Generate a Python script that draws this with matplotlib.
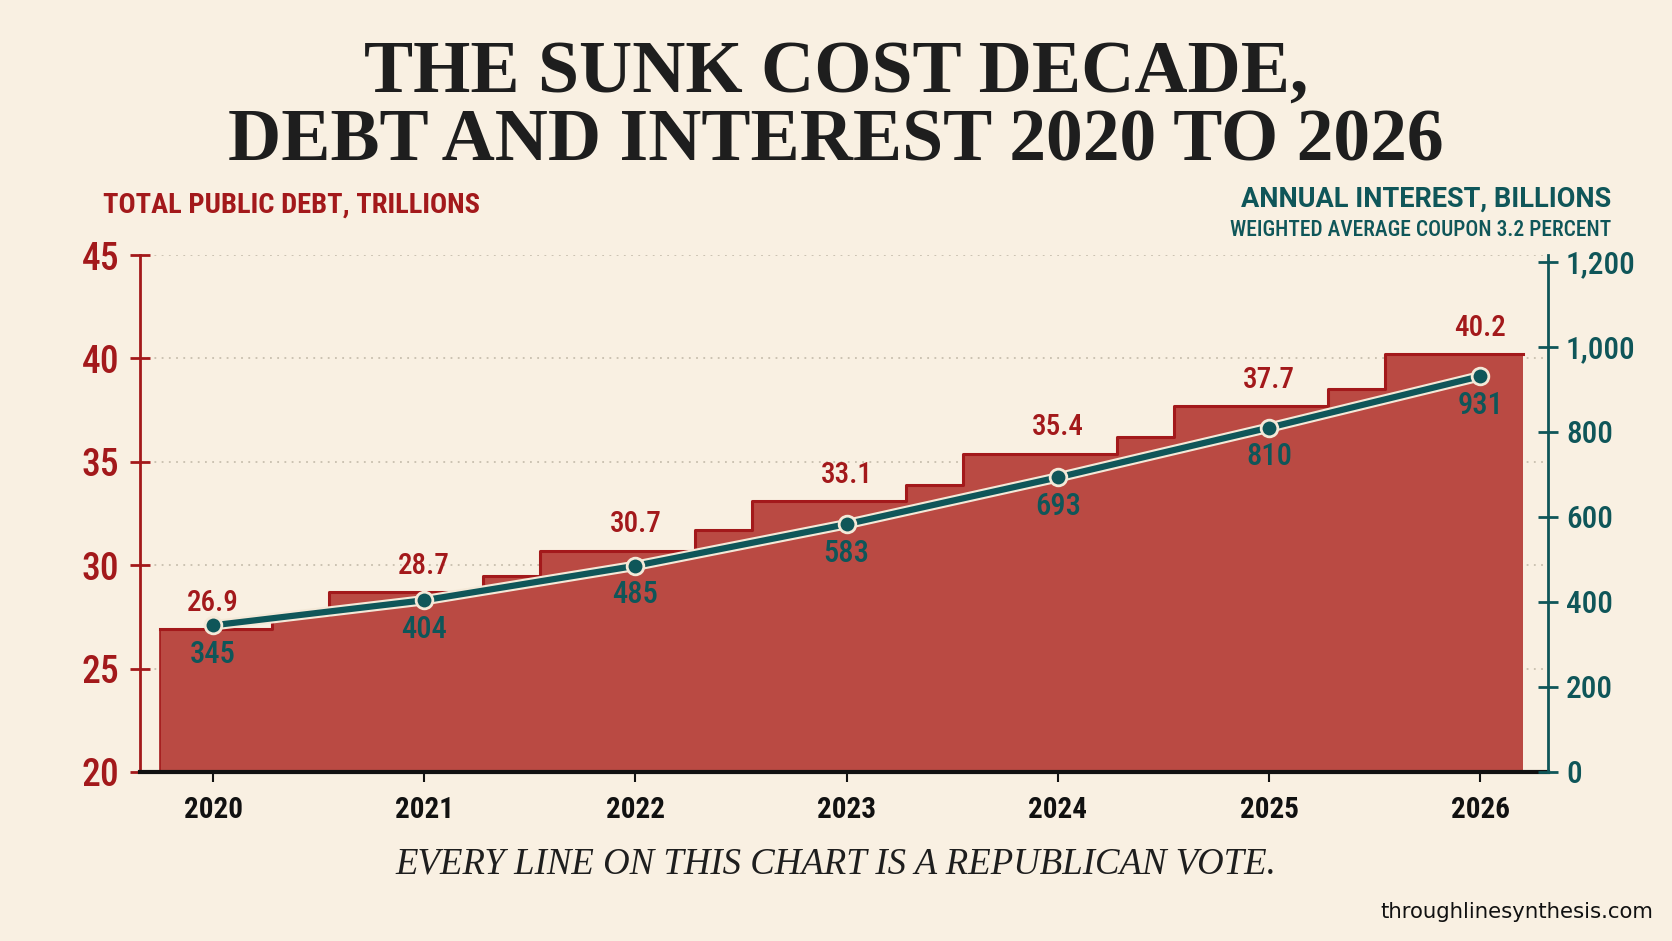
import matplotlib
matplotlib.use("Agg")
import matplotlib.pyplot as plt
import matplotlib.patheffects as pe
import numpy as np

years = [2020, 2021, 2022, 2023, 2024, 2025, 2026]
debt = [26.9, 28.7, 30.7, 33.1, 35.4, 37.7, 40.2]
# the half-year steps drawn between the labelled levels
debt_mid = [27.6, 29.5, 31.7, 33.9, 36.2, 38.5]
interest = [345, 404, 485, 583, 693, 810, 931]

debt_ticks = [20, 25, 30, 35, 40, 45]
interest_ticks = [0, 200, 400, 600, 800, 1000, 1200]

BG = "#F9F0E2"
RED = "#A3191B"
FILL = "#BA4A43"
TEAL = "#0F5659"
NARROW = ["Roboto Condensed", "DejaVu Sans"]

fig = plt.figure(figsize=(16.72, 9.41), dpi=100, facecolor=BG)
ax = fig.add_axes([0.0837, 0.1796, 0.8421, 0.5494])
ax.set_facecolor(BG)

# build the staircase: main level for most of the year, then a mid step
xs, ys = [], []
for i, (yr, d) in enumerate(zip(years, debt)):
    start = yr - 0.25 if i == 0 else yr - 0.45
    xs.append(start)
    ys.append(d)
    if i < len(debt_mid):
        xs.append(yr + 0.28)
        ys.append(debt_mid[i])
xs.append(years[-1] + 0.2)
ys.append(debt[-1])
xs = np.array(xs)
ys = np.array(ys)

ax.fill_between(xs, 20, ys, step="post", color=FILL, zorder=2, lw=0)
ax.step(xs, ys, where="post", color=RED, lw=2.2, zorder=3)
ax.plot([xs[0], xs[0]], [20, ys[0]], color=RED, lw=1.2, zorder=3)

for yr, d in zip(years, debt):
    ax.annotate(f"{d:.1f}", (yr, d), xytext=(0, 19), textcoords="offset points",
                ha="center", va="center", color=RED, fontsize=21, fontweight="medium",
                family=NARROW, fontstretch="condensed", zorder=5)

ax.set_xlim(2019.654, 2026.32)
ax.set_ylim(20, 45)
ax.set_yticks(debt_ticks)
ax.set_xticks(years)
ax.grid(axis="y", color="#C8BFAE", linestyle=(0, (1, 3)), lw=1.3, zorder=0)
ax.set_axisbelow(True)

for s in ["top", "right"]:
    ax.spines[s].set_visible(False)
ax.spines["left"].set_color(RED)
ax.spines["left"].set_linewidth(2)
ax.spines["bottom"].set_color("#111111")
ax.spines["bottom"].set_linewidth(3)
ax.spines["bottom"].set_zorder(4)
ax.tick_params(axis="y", colors=RED, direction="inout", length=14, width=2,
               labelsize=27, pad=8)
ax.tick_params(axis="x", colors="#111111", direction="out", length=7, width=1.5,
               labelsize=21, pad=10)
for lab in ax.get_yticklabels():
    lab.set_family(NARROW)
    lab.set_fontstretch("condensed")
    lab.set_fontweight("medium")
for lab in ax.get_xticklabels():
    lab.set_family(NARROW)
    lab.set_fontstretch("condensed")
    lab.set_fontweight("bold")

ax2 = ax.twinx()
ax2.set_ylim(0, 1216)
ax2.set_yticks(interest_ticks)
ax2.set_yticklabels([f"{v:,}" for v in interest_ticks])
for s in ["top", "left", "bottom"]:
    ax2.spines[s].set_visible(False)
ax2.spines["right"].set_color(TEAL)
ax2.spines["right"].set_linewidth(2)
ax2.tick_params(axis="y", colors=TEAL, direction="inout", length=14, width=2,
                labelsize=22.5, pad=6)
for lab in ax2.get_yticklabels():
    lab.set_family(NARROW)
    lab.set_fontstretch("condensed")
    lab.set_fontweight("medium")

ax2.plot(years, interest, color=TEAL, lw=4.5, zorder=4,
         path_effects=[pe.Stroke(linewidth=7.5, foreground="#F4E9D8"), pe.Normal()])
ax2.plot(years, interest, "o", color=TEAL, ms=12, mec="#F4E9D8", mew=2, zorder=5)
for yr, v in zip(years, interest):
    ax2.annotate(f"{v}", (yr, v), xytext=(0, -21), textcoords="offset points",
                 ha="center", va="center", color=TEAL, fontsize=22, fontweight="medium",
                 family=NARROW, fontstretch="condensed", zorder=6)

# titles and notes
fig.text(0.5, 0.922, "THE SUNK COST DECADE,", ha="center", va="center",
         fontsize=53, fontweight="bold", family="Liberation Serif", color="#1E1E1E")
fig.text(0.5, 0.849, "DEBT AND INTEREST 2020 TO 2026", ha="center", va="center",
         fontsize=53, fontweight="bold", family="Liberation Serif", color="#1E1E1E")
fig.text(0.0616, 0.782, "TOTAL PUBLIC DEBT, TRILLIONS", ha="left", va="center",
         fontsize=20.5, fontweight="bold", family=NARROW, fontstretch="condensed",
         color=RED)
fig.text(0.9636, 0.788, "ANNUAL INTEREST, BILLIONS", ha="right", va="center",
         fontsize=19.5, fontweight="bold", family=["Roboto", "DejaVu Sans"], color=TEAL)
fig.text(0.9636, 0.756, "WEIGHTED AVERAGE COUPON 3.2 PERCENT", ha="right", va="center",
         fontsize=15.5, fontweight="medium", family=NARROW, fontstretch="condensed",
         color=TEAL)
fig.text(0.5, 0.082, "EVERY LINE ON THIS CHART IS A REPUBLICAN VOTE.", ha="center",
         va="center", fontsize=26.5, style="italic", family="Liberation Serif",
         color="#1E1E1E")
fig.text(0.9886, 0.031, "throughlinesynthesis.com", ha="right", va="center",
         fontsize=15.3, family="DejaVu Sans", color="#111111")

fig.savefig("out.png", dpi=100, facecolor=BG)
